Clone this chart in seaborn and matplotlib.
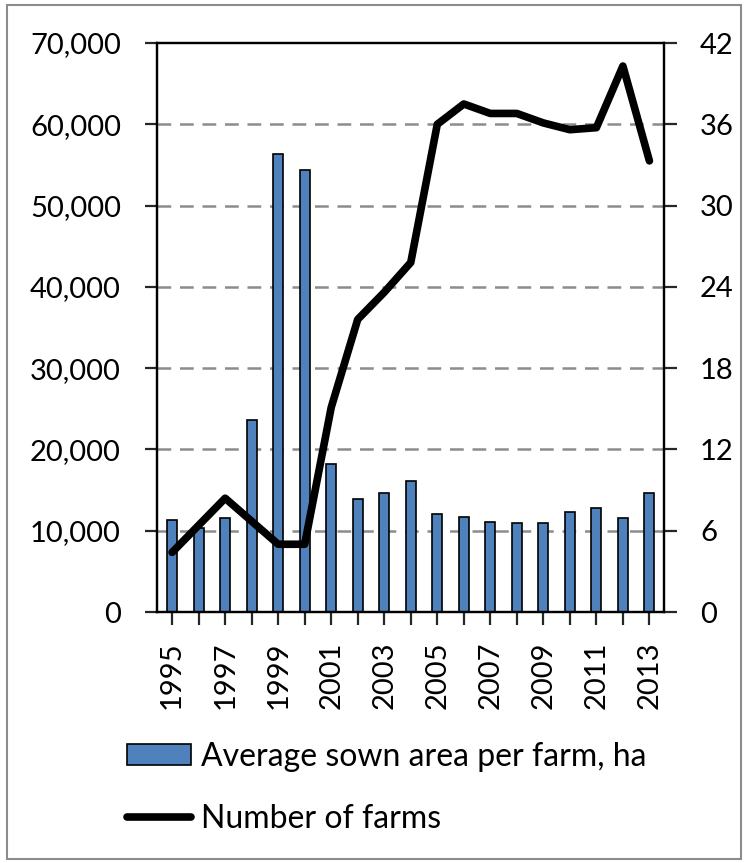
import matplotlib
matplotlib.use("Agg")
import matplotlib.pyplot as plt
import seaborn as sns
import numpy as np
import pandas as pd
from matplotlib.patches import Patch, Rectangle
from matplotlib.lines import Line2D
from matplotlib.ticker import FuncFormatter

years = [str(y) for y in range(1995, 2014)]
avg_area = [11300, 10300, 11600, 23600, 56300, 54400, 18200, 13900, 14700, 16100,
            12100, 11700, 11100, 10900, 11000, 12300, 12800, 11600, 14700]
num_farms = [4.4, 6.4, 8.4, 6.7, 5.0, 5.0, 15.1, 21.6, 23.6, 25.8,
             36.0, 37.5, 36.8, 36.8, 36.1, 35.6, 35.75, 40.3, 33.3]
left_ticks = [0, 10000, 20000, 30000, 40000, 50000, 60000, 70000]
right_ticks = [0, 6, 12, 18, 24, 30, 36, 42]
bar_label = "Average sown area per farm, ha"
line_label = "Number of farms"

sns.set_style("white")
plt.rcParams['font.family'] = ['Lato', 'DejaVu Sans']
plt.rcParams['text.color'] = 'black'
FS = 21
LFS = 23

W, H = 745, 863
fig = plt.figure(figsize=(W / 100, H / 100), dpi=100)
ax = fig.add_axes([157 / W, (H - 612) / H, (664 - 157) / W, (612 - 43) / H])

df = pd.DataFrame({"year": years, "area": avg_area, "farms": num_farms})
sns.barplot(data=df, x="year", y="area", ax=ax, color="#4F81BD", saturation=1,
            edgecolor="black", linewidth=1.2, width=0.38, zorder=2)
ax.set_ylim(0, 70000)
ax.set_yticks(left_ticks)
ax.yaxis.set_major_formatter(FuncFormatter(lambda v, p: f"{int(v):,}"))
for yv in left_ticks[1:-1]:
    ax.axhline(yv, color="#8c8c8c", lw=1.8, ls=(0, (5.5, 3.5)), zorder=1)

ax2 = ax.twinx()
xpos = np.arange(len(years))
sns.lineplot(x=xpos, y=num_farms, ax=ax2, color="black", lw=5.5, zorder=3)
ax2.set_ylim(0, 42)
ax2.set_yticks(right_ticks)
ax.set_xlim(-0.57, 18.55)
ax2.set_xlim(-0.57, 18.55)

ax.set_xticks(xpos)
ax.set_xticklabels([y if i % 2 == 0 else "" for i, y in enumerate(years)],
                   rotation=90, fontsize=FS)
ax.set_xlabel("")
ax.set_ylabel("")
ax2.set_ylabel("")

for a in (ax, ax2):
    for s in a.spines.values():
        s.set_color("black")
        s.set_linewidth(1.6)
ax.tick_params(axis="y", direction="out", length=9, width=1.6, pad=17, labelsize=FS,
               left=True, labelcolor="black")
ax.tick_params(axis="x", direction="out", length=9, width=1.6, pad=12, labelsize=FS,
               bottom=True, labelcolor="black")
ax2.tick_params(axis="y", direction="out", length=9, width=1.6, pad=17, labelsize=FS,
                right=True, labelcolor="black")

handles = [Patch(facecolor="#4F81BD", edgecolor="black", linewidth=1.2),
           Line2D([0], [0], color="black", lw=5.5)]
fig.legend(handles, [bar_label, line_label], loc="upper left",
           bbox_to_anchor=(127 / W, 1 - 742 / H), frameon=False, fontsize=LFS,
           handlelength=2.0, handleheight=0.65, handletextpad=0.33,
           labelspacing=1.0, borderpad=0, borderaxespad=0)

fig.patches.append(Rectangle((7 / W, 4 / H), (741 - 7) / W, (858 - 4) / H,
                             transform=fig.transFigure, fill=False,
                             edgecolor="#8c8c8c", lw=1.5))

fig.savefig("out.png", dpi=100)
